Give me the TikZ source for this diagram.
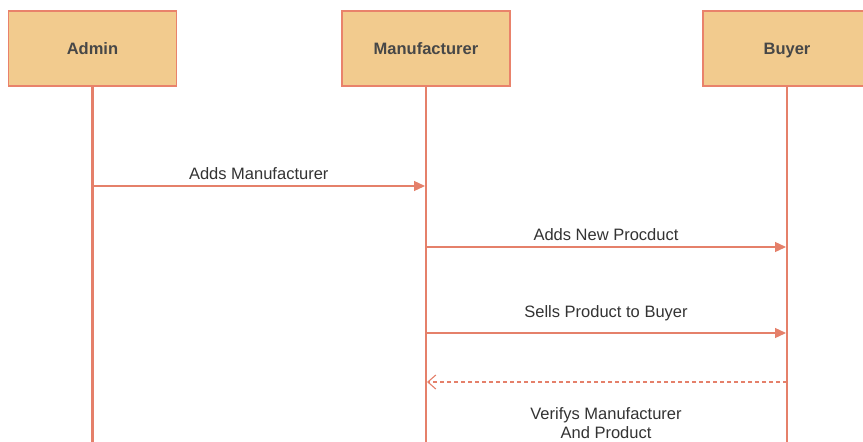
\documentclass[tikz,border=0pt]{standalone}
\usepackage{fontspec}
\setmainfont{Liberation Sans}
\usetikzlibrary{arrows.meta}
\definecolor{boxfill}{HTML}{F2CB8E}
\definecolor{boxline}{HTML}{E9826B}
\definecolor{lline}{HTML}{E5806A}
\definecolor{txt}{HTML}{333333}
\begin{document}
\begin{tikzpicture}[x=1pt,y=-1pt,
  actor/.style={draw=boxline,line width=1.2pt,fill=boxfill,minimum width=168pt,minimum height=75pt,inner sep=0pt,text height=12pt,text depth=0pt,font=\fontsize{16.5}{18}\selectfont\bfseries,text=txt!90},
  life/.style={draw=lline,line width=2.2pt},
  msg/.style={draw=lline,line width=1.3pt,-{Triangle[length=11pt,width=10pt]}},
  ret/.style={draw=lline,line width=1.1pt,dash pattern=on 4pt off 3pt,-{Straight Barb[length=8pt,width=14pt,line width=1.1pt]}},
  lbl/.style={font=\fontsize{16.5}{19}\selectfont,text=txt,inner sep=0pt,align=center}]
\useasboundingbox (0,0) rectangle (863,442);
\fill[white] (0,0) rectangle (863,442);
% lifeline bottoms
\coordinate (aend) at (92.5,442);
\coordinate (mend) at (426,442);
\coordinate (bend) at (787,442);
\node[actor] (admin) at (92.5,48.5) {Admin};
\node[actor] (manu) at (426,48.5) {Manufacturer};
\node[actor] (buyer) at (787,48.5) {Buyer};
\draw[life] (admin.south) -- (aend);
\draw[life] (manu.south) -- (mend);
\draw[life] (buyer.south) -- (bend);
% messages
\coordinate (a1) at (92.5,186);
\coordinate (m1) at (425,186);
\draw[msg] (a1) -- node[lbl,above=6pt] (l1) {Adds Manufacturer} (m1);
\coordinate (m2) at (426,247);
\coordinate (b2) at (786,247);
\draw[msg] (m2) -- node[lbl,above=6pt] (l2) {Adds New Procduct} (b2);
\coordinate (m3) at (426,333);
\coordinate (b3) at (786,333);
\draw[msg] (m3) -- node[lbl,above=11pt] (l3) {Sells Product to Buyer} (b3);
\coordinate (b4) at (787,382);
\coordinate (m4) at (427,382);
\draw[ret] (b4) -- (m4);
\node[lbl] (l4) at (606,423) {Verifys Manufacturer\\And Product};
\end{tikzpicture}
\end{document}
